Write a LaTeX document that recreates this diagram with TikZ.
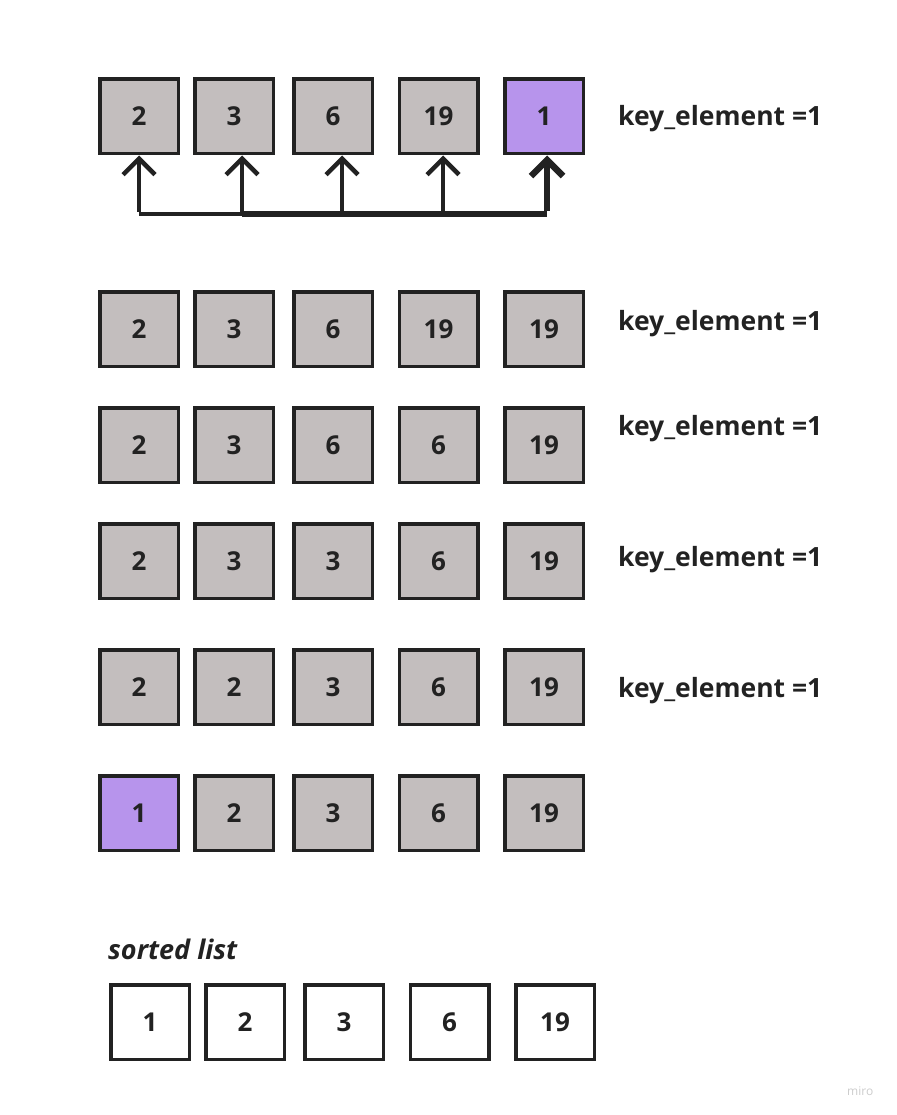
\documentclass[tikz,border=0pt]{standalone}
\usepackage{fontspec}
\setmainfont{Open Sans}
\usetikzlibrary{arrows.meta}
\definecolor{cellgray}{HTML}{C3BEBE}
\definecolor{cellpurple}{HTML}{B794EC}
\definecolor{ink}{HTML}{222222}
\definecolor{wm}{HTML}{CCCCCC}
\tikzset{
  cell/.style={draw=ink, line width=3.5pt, fill=cellgray, minimum width=78.5pt, minimum height=74.5pt, inner sep=0pt, font=\fontsize{26}{26}\selectfont\bfseries, text=ink},
  keycell/.style={cell, fill=cellpurple},
  outcell/.style={cell, fill=white},
  keylabel/.style={anchor=base west, inner sep=0pt, font=\fontsize{26.5}{26.5}\selectfont\bfseries, text=ink},
  conn/.style={draw=ink, line width=4.5pt, line join=miter},
  connthick/.style={draw=ink, line width=6.5pt},
  tip/.style={-{Straight Barb[length=16pt,width=32pt]}},
}
\begin{document}
\begin{tikzpicture}[x=1pt,y=-1pt]
\useasboundingbox (0,0) rectangle (896,1115);
% row 1
\node[cell] (a1) at (139,116.5) {2};
\node[cell] (a2) at (234,116.5) {3};
\node[cell] (a3) at (333,116.5) {6};
\node[cell] (a4) at (438.5,116.5) {19};
\node[keycell] (a5) at (544,116.5) {1};
\node[keylabel] (l1) at (618,126) {key\_element =1};
% row 2
\node[cell] (b1) at (139,329) {2};
\node[cell] (b2) at (234,329) {3};
\node[cell] (b3) at (333,329) {6};
\node[cell] (b4) at (438.5,329) {19};
\node[cell] (b5) at (544,329) {19};
\node[keylabel] (l2) at (618,330) {key\_element =1};
% row 3
\node[cell] (c1) at (139,445) {2};
\node[cell] (c2) at (234,445) {3};
\node[cell] (c3) at (333,445) {6};
\node[cell] (c4) at (438.5,445) {6};
\node[cell] (c5) at (544,445) {19};
\node[keylabel] (l3) at (618,435) {key\_element =1};
% row 4
\node[cell] (d1) at (139,561) {2};
\node[cell] (d2) at (234,561) {3};
\node[cell] (d3) at (333,561) {3};
\node[cell] (d4) at (438.5,561) {6};
\node[cell] (d5) at (544,561) {19};
\node[keylabel] (l4) at (618,566) {key\_element =1};
% row 5
\node[cell] (e1) at (139,687) {2};
\node[cell] (e2) at (234,687) {2};
\node[cell] (e3) at (333,687) {3};
\node[cell] (e4) at (438.5,687) {6};
\node[cell] (e5) at (544,687) {19};
\node[keylabel] (l5) at (618,697) {key\_element =1};
% row 6
\node[keycell] (f1) at (139,813) {1};
\node[cell] (f2) at (234,813) {2};
\node[cell] (f3) at (333,813) {3};
\node[cell] (f4) at (438.5,813) {6};
\node[cell] (f5) at (544,813) {19};
% sorted list
\node[anchor=base west, inner sep=0pt, font=\fontsize{27}{27}\selectfont\bfseries\itshape, text=ink] (sl) at (108,959) {sorted list};
\node[outcell] (s1) at (150,1022) {1};
\node[outcell] (s2) at (245,1022) {2};
\node[outcell] (s3) at (344,1022) {3};
\node[outcell] (s4) at (449.5,1022) {6};
\node[outcell] (s5) at (555,1022) {19};
% connectors
\coordinate (h1) at (139,214);
\coordinate (h2) at (242,214);
\coordinate (h3) at (342,214);
\coordinate (h4) at (443,214);
\coordinate (h5) at (547,214);
\draw[conn] (h2) -- (h1);
\draw[connthick] (h2) -- (h5);
\draw[conn,tip] ([yshift=2.25pt]h1) -- (h1 |- a1.south);
\draw[conn,tip] (h2) -- (h2 |- a2.south);
\draw[conn,tip] (h3) -- (h3 |- a3.south);
\draw[conn,tip] (h4) -- (h4 |- a4.south);
\draw[connthick,tip] ([yshift=3.25pt]h5) -- (h5 |- a5.south);
% watermark
\node[anchor=base west, inner sep=0pt, font=\fontsize{12}{12}\selectfont, text=wm] (wmk) at (847,1095) {miro};
\end{tikzpicture}
\end{document}
